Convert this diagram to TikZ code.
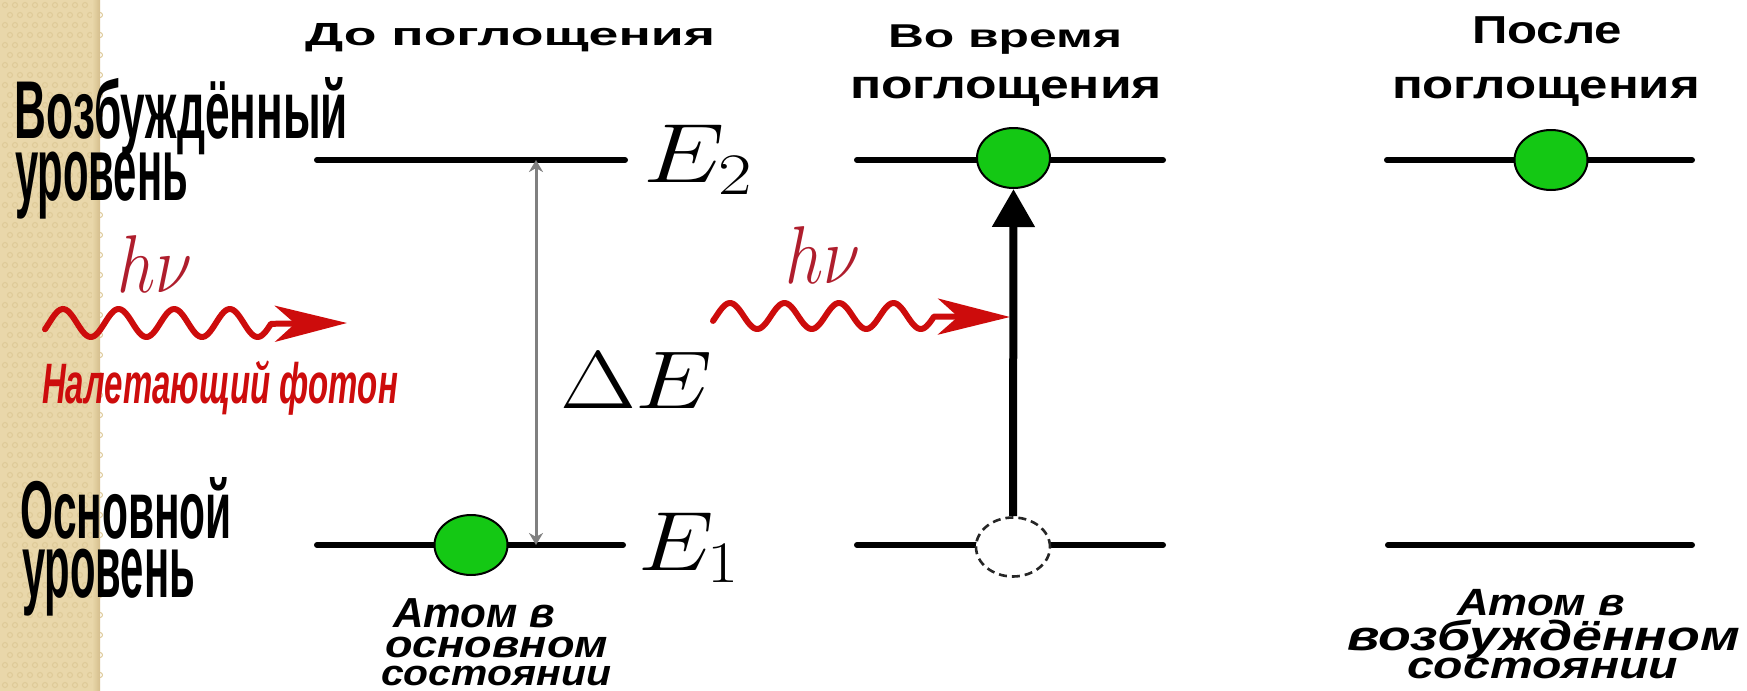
\RequirePackage{fix-cm}
\documentclass[tikz,border=0pt]{standalone}
\usepackage{fontspec}
\usepackage{graphicx}
\usetikzlibrary{shapes.geometric,arrows.meta}
\newfontfamily\lsans{Liberation Sans}
\definecolor{beige}{RGB}{233,215,170}
\definecolor{beigedark}{RGB}{212,190,140}
\definecolor{beigedot}{RGB}{222,202,152}
\definecolor{atomgreen}{RGB}{20,200,20}
\definecolor{photonred}{RGB}{205,12,12}
\definecolor{hnured}{RGB}{175,30,45}
\newcommand{\fw}[2]{\resizebox{#1pt}{\height}{#2}}
\newcommand{\fs}[1]{\fontsize{#1}{#1}\selectfont}
\tikzset{
  txt/.style={inner sep=0pt, outer sep=0pt, anchor=base west},
  level/.style={line width=3pt, line cap=round},
  atom/.style={ellipse, minimum width=36.5pt, minimum height=30pt, inner sep=0pt, draw=black, line width=1pt, fill=atomgreen},
  ghost/.style={ellipse, minimum width=37pt, minimum height=29.5pt, inner sep=0pt, draw=black!85, line width=1.3pt, dash pattern=on 4pt off 2.5pt, fill=white},
  photon/.style={photonred, line width=3pt, line cap=round, line join=round, -{Stealth[length=36pt,width=18pt,inset=10pt]}},
  gap/.style={gray, line width=1.5pt, {Stealth[length=6pt,width=7pt]}-{Stealth[length=6pt,width=7pt]}},
  jump/.style={black, line width=4pt, -{Triangle[length=19pt,width=20.5pt]}},
  head/.style={txt, font=\lsans\bfseries},
  lvlname/.style={txt, font=\lsans\bfseries},
  statetxt/.style={txt, font=\lsans\bfseries\itshape},
  mathtxt/.style={txt},
  dot/.style={draw=beigedot, line width=0.5pt},
}
\begin{document}
\begin{tikzpicture}[x=0.5pt, y=-0.5pt]
\useasboundingbox (0,0) rectangle (1747,691);
\fill[white] (0,0) rectangle (1747,691);
% beige strip with ring texture
\fill[beige] (0,0) rectangle (100,691);
\foreach \i in {0,...,9} {
  \foreach \j in {0,...,69} {
    \draw[dot] ({5+10*\i+5*mod(\j,2)},{5+10*\j}) circle (2.5);
  }
}
\shade[left color=beige, right color=beigedark] (92,0) rectangle (100,691);

% level lines
\coordinate (a2l) at (317,160); \coordinate (a2r) at (625,160);
\coordinate (a1l) at (317,545); \coordinate (a1r) at (623,545);
\coordinate (b2l) at (857,160); \coordinate (b2r) at (1163,160);
\coordinate (b1l) at (857,545); \coordinate (b1r) at (1163,545);
\coordinate (c2l) at (1387,160); \coordinate (c2r) at (1692,160);
\coordinate (c1l) at (1388,545); \coordinate (c1r) at (1692,545);
\draw[level] (a2l) -- (a2r);
\draw[level] (a1l) -- (a1r);
\draw[level] (b2l) -- (b2r);
\draw[level] (b1l) -- (b1r);
\draw[level] (c2l) -- (c2r);
\draw[level] (c1l) -- (c1r);

% energy gap arrow
\coordinate (gtop) at (536,160);
\coordinate (gbot) at (536,545);
\draw[gap] (gbot) -- (gtop);

% atoms
\node[atom] (atomL) at (471,545) {};
\node[atom] (atomM) at (1013.5,158) {};
\node[ghost] (ghostM) at (1013,547) {};
\node[atom] (atomR) at (1551,160) {};

% excitation arrow
\draw[jump] (ghostM.north) -- (atomM.south);

% photons
\coordinate (ph1e) at (347,323);
\draw[photon] plot[domain=45:271, samples=120, smooth] (\x, {323-14*cos(6.4748*(\x-63))}) -- (ph1e);
\coordinate (ph2e) at (1010,317);
\draw[photon] plot[domain=713:934, samples=120, smooth] (\x, {316-13*cos(6.6055*(\x-730))}) -- (ph2e);

% math labels
\node[mathtxt] (E2) at (643,182) {\fw{55}{\fs{42}$E_2$}};
\node[mathtxt] (E1) at (638,570) {\fw{51}{\fs{42}$E_1$}};
\node[mathtxt] (dE) at (560,408) {\fw{76.5}{\fs{41}$\Delta E$}};
\node[mathtxt, text=hnured] (hnuL) at (117,292) {\fw{37.5}{\fs{41}$h\nu$}};
\node[mathtxt, text=hnured] (hnuM) at (785,283) {\fw{37.5}{\fs{41}$h\nu$}};

% level names
\node[lvlname] (n1) at (15,138) {\fw{166.5}{\fs{41}Возбуждённый}};
\node[lvlname] (n2) at (15,200) {\fw{86.5}{\fs{45}уровень}};
\node[lvlname] (n3) at (20,538) {\fw{106}{\fs{41}Основной}};
\node[lvlname] (n4) at (22,597) {\fw{86.5}{\fs{45}уровень}};

% incident photon caption
\node[statetxt, text=photonred] (cap) at (42,403) {\fw{178}{\fs{28.5}Налетающий фотон}};

% headers
\node[head] (h1) at (305,45) {\fw{205}{\fs{16}До поглощения}};
\node[head] (h2a) at (888,47) {\fw{117}{\fs{16.5}Во время}};
\node[head] (h2b) at (850,98) {\fw{156}{\fs{20}поглощения}};
\node[head] (h3a) at (1472,43) {\fw{75}{\fs{19.5}После}};
\node[head] (h3b) at (1392,98) {\fw{154}{\fs{20}поглощения}};

% state captions
\node[statetxt] (s1a) at (393,627) {\fw{81}{\fs{21}Атом в}};
\node[statetxt] (s1b) at (385,657) {\fw{111.5}{\fs{19}основном}};
\node[statetxt] (s1c) at (381,685) {\fw{115}{\fs{18}состоянии}};
\node[statetxt] (s2a) at (1457,615) {\fw{84}{\fs{19}Атом в}};
\node[statetxt] (s2b) at (1347,650) {\fw{196.5}{\fs{21}возбуждённом}};
\node[statetxt] (s2c) at (1407,678) {\fw{135.5}{\fs{19}состоянии}};
\end{tikzpicture}
\end{document}
